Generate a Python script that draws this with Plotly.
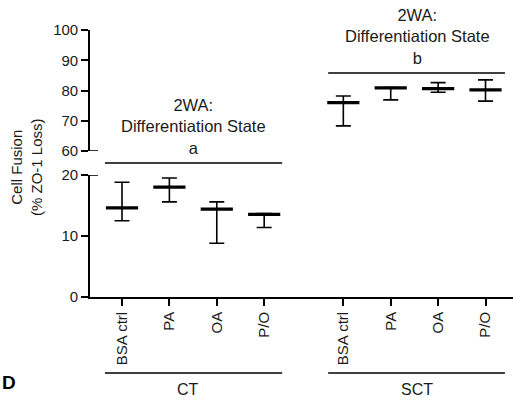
import plotly.graph_objects as go

# ---- data ----
categories = ["BSA ctrl", "PA", "OA", "P/O"]
groups = ["CT", "SCT"]
x_ct = [0, 1, 2, 3]
x_sct = [4.67, 5.67, 6.67, 7.67]

ct_mean = [14.6, 18.0, 14.4, 13.55]
ct_upper = [18.8, 19.5, 15.6, 13.7]
ct_lower = [12.5, 15.6, 8.8, 11.4]

sct_mean = [76.0, 80.9, 80.6, 80.2]
sct_upper = [78.2, 81.0, 82.6, 83.5]
sct_lower = [68.3, 76.9, 79.4, 76.5]

stat_label = "2WA:<br>Differentiation State"
letters = ["a", "b"]

W, H = 514, 404
FONT = "Liberation Sans, Arial, sans-serif"
INK = "#1a1a1a"


def px(x):
    return x / W


def py(y):
    return 1 - y / H


fig = go.Figure()


def add_group(xs, mean, up, lo, yaxis):
    fig.add_trace(go.Scatter(
        x=xs, y=mean, xaxis="x", yaxis=yaxis, mode="markers",
        marker=dict(symbol="line-ew", size=23, color="black",
                    line=dict(width=3.2, color="black")),
        error_y=dict(type="data", symmetric=False,
                     array=[u - m for u, m in zip(up, mean)],
                     arrayminus=[m - l for m, l in zip(mean, lo)],
                     color="black", thickness=1.6, width=7.5),
        showlegend=False, hoverinfo="skip"))


add_group(x_ct, ct_mean, ct_upper, ct_lower, "y")
add_group(x_sct, sct_mean, sct_upper, sct_lower, "y2")

axis_common = dict(showline=True, linecolor="black", linewidth=1.6,
                   ticks="outside", tickcolor="black", tickwidth=1.6,
                   ticklen=7, showgrid=False, zeroline=False, automargin=False,
                   tickfont=dict(family=FONT, size=15, color=INK))

fig.update_layout(
    template="none",
    width=W, height=H, autosize=False,
    margin=dict(l=0, r=0, t=0, b=0, pad=0),
    paper_bgcolor="white", plot_bgcolor="white",
    xaxis=dict(domain=[px(90), px(513)], range=[-0.675, 8.25],
               anchor="y", tickvals=x_ct + x_sct,
               ticktext=categories + categories, tickangle=-90,
               **axis_common),
    yaxis=dict(domain=[py(297), py(175)], range=[0, 20],
               tickvals=[0, 10, 20], anchor="x", **axis_common),
    yaxis2=dict(domain=[py(151), py(30)], range=[60, 100],
                tickvals=[60, 70, 80, 90, 100], anchor="x", **axis_common),
)

shapes = []
# axis break ticks to the right
shapes.append(dict(type="line", xref="paper", yref="y2", x0=px(90), x1=px(98),
                   y0=60, y1=60, line=dict(color="black", width=1.6)))
shapes.append(dict(type="line", xref="paper", yref="y", x0=px(90), x1=px(98),
                   y0=20, y1=20, line=dict(color="black", width=1.6)))
# group lines under axis
for x0, x1 in [(-0.36, 3.38), (4.35, 8.08)]:
    shapes.append(dict(type="line", xref="x", yref="paper", x0=x0, x1=x1,
                       y0=py(373), y1=py(373), line=dict(color="black", width=1.6)))
# stat lines
shapes.append(dict(type="line", xref="x", yref="paper", x0=-0.36, x1=3.38,
                   y0=py(163), y1=py(163), line=dict(color="black", width=1.6)))
shapes.append(dict(type="line", xref="x", yref="paper", x0=4.35, x1=8.08,
                   y0=py(73), y1=py(73), line=dict(color="black", width=1.6)))
fig.update_layout(shapes=shapes)


def note(x, y, text, size=16, angle=0, color=INK):
    return dict(x=px(x), y=py(y), xref="paper", yref="paper", text=text,
                showarrow=False, xanchor="center", yanchor="middle",
                textangle=angle, align="center",
                font=dict(family=FONT, size=size, color=color))


ann = [
    note(193, 126, stat_label + "<br>" + letters[0], 16.5),
    note(417, 37, stat_label + "<br>" + letters[1], 16.5),
    note(188, 389, groups[0], 16),
    note(417, 389, groups[1], 16),
    note(9, 382, "<b>D</b>", 19, color="black"),
    note(27, 167, "Cell Fusion<br>(% ZO-1 Loss)", 15, angle=-90),
]
fig.update_layout(annotations=ann)

fig.write_html("out.html",
               post_script="document.body.style.margin='0';"
                           "document.body.style.overflow='hidden';")
